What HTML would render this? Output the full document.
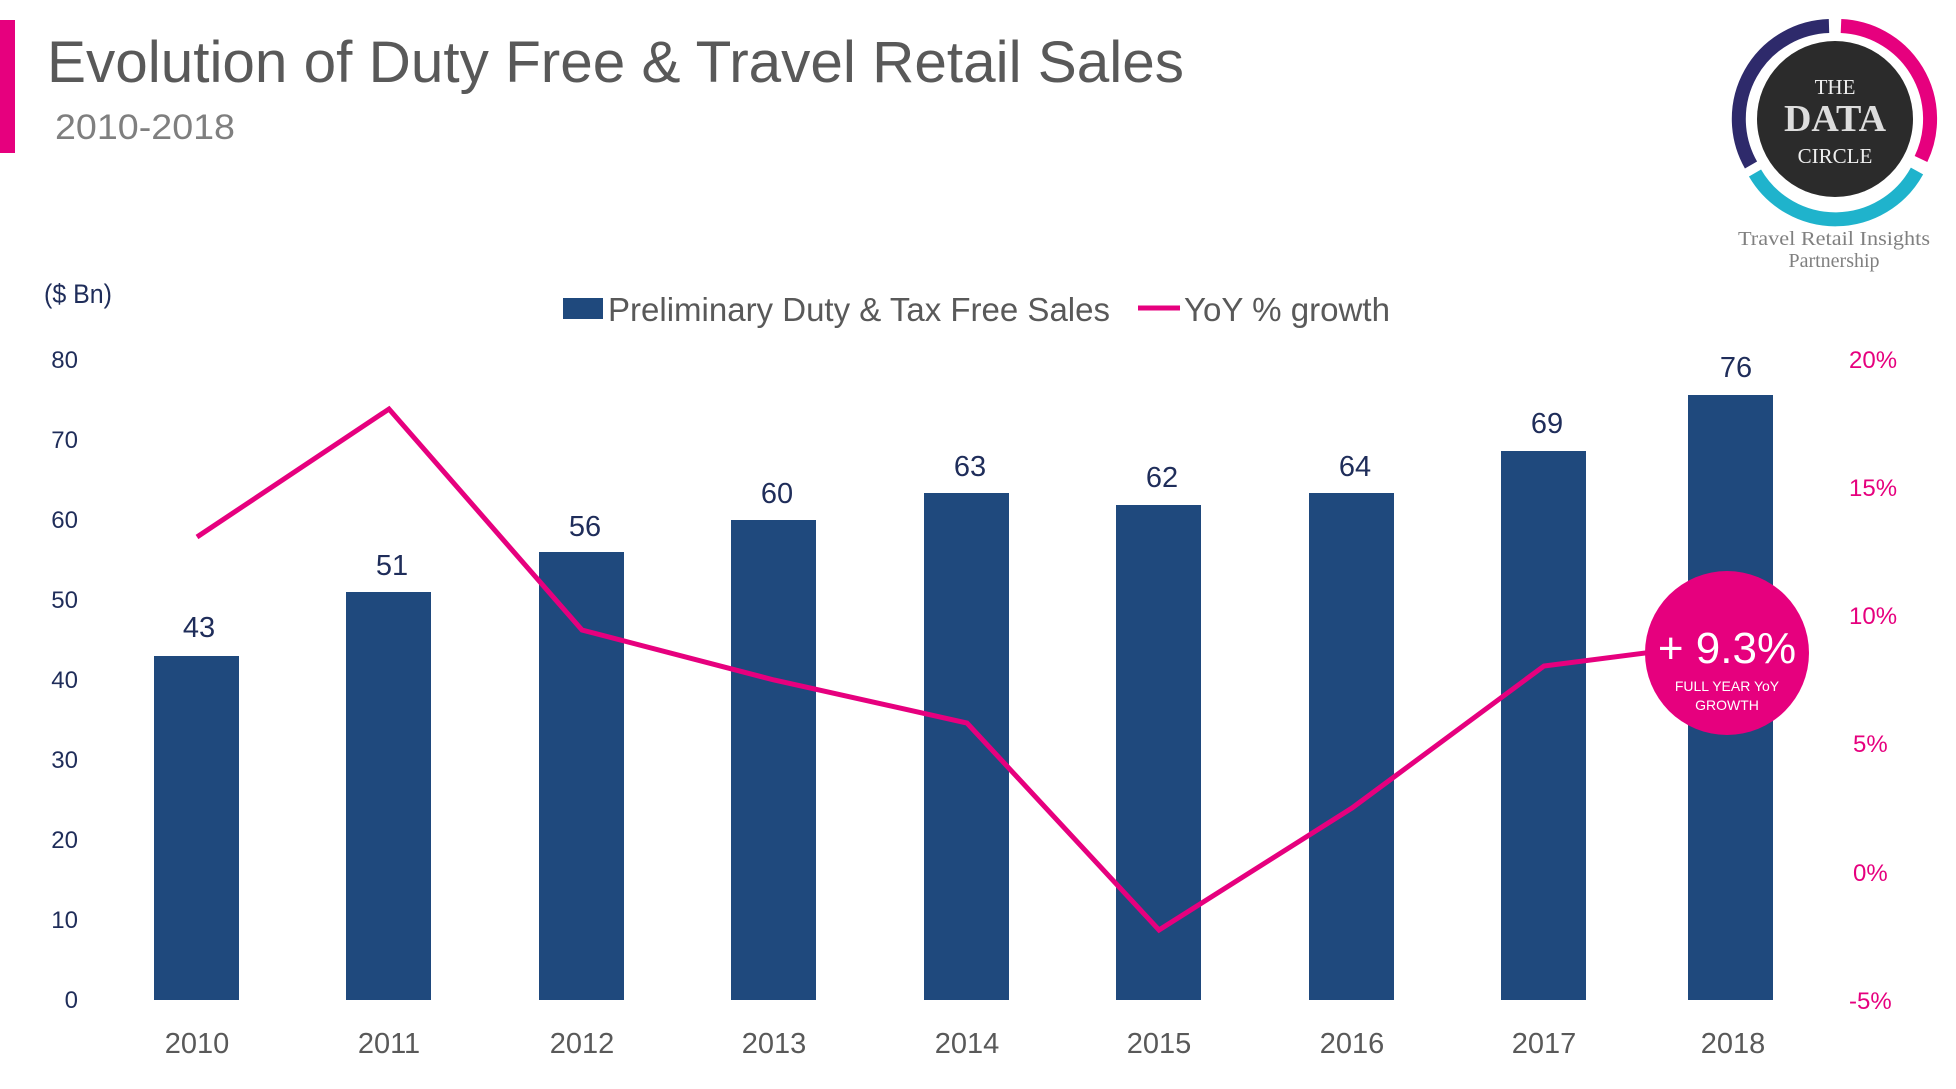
<!DOCTYPE html>
<html><head><meta charset="utf-8"><style>
html,body{margin:0;padding:0;background:#fff;width:1956px;height:1089px;overflow:hidden}
svg{display:block}
</style></head><body>
<svg width="1956" height="1089" viewBox="0 0 1956 1089" xmlns="http://www.w3.org/2000/svg" font-family="'Liberation Sans', sans-serif">
<rect x="0" y="20" width="15" height="133" fill="#e6007e"/>
<text x="47" y="82" font-size="58" fill="#595959" textLength="1137" lengthAdjust="spacingAndGlyphs">Evolution of Duty Free &amp; Travel Retail Sales</text>
<text x="55" y="139" font-size="35" fill="#7f7f7f" textLength="180" lengthAdjust="spacingAndGlyphs">2010-2018</text>
<text x="44" y="303" font-size="27" fill="#1f2d5a" textLength="68" lengthAdjust="spacingAndGlyphs">($ Bn)</text>
<rect x="563" y="298" width="40" height="21" fill="#1f497d"/>
<text x="608" y="321" font-size="33" fill="#595959" textLength="502" lengthAdjust="spacingAndGlyphs">Preliminary Duty &amp; Tax Free Sales</text>
<line x1="1138" y1="308" x2="1180" y2="308" stroke="#e6007e" stroke-width="5"/>
<text x="1184" y="321" font-size="33" fill="#595959" textLength="206" lengthAdjust="spacingAndGlyphs">YoY % growth</text>
<g font-size="24" fill="#1f2d5a" text-anchor="end">
<text x="78" y="368">80</text><text x="78" y="448">70</text><text x="78" y="528">60</text><text x="78" y="608">50</text>
<text x="78" y="688">40</text><text x="78" y="768">30</text><text x="78" y="848">20</text><text x="78" y="928">10</text><text x="78" y="1008">0</text>
</g>
<g font-size="24" fill="#e6007e">
<text x="1849" y="368">20%</text><text x="1849" y="496">15%</text><text x="1849" y="624">10%</text>
<text x="1853" y="752">5%</text><text x="1853" y="881">0%</text><text x="1849" y="1009">-5%</text>
</g>
<g fill="#1f497d">
<rect x="154" y="656" width="85" height="344"/>
<rect x="346" y="592" width="85" height="408"/>
<rect x="539" y="552" width="85" height="448"/>
<rect x="731" y="520" width="85" height="480"/>
<rect x="924" y="493" width="85" height="507"/>
<rect x="1116" y="505" width="85" height="495"/>
<rect x="1309" y="493" width="85" height="507"/>
<rect x="1501" y="451" width="85" height="549"/>
<rect x="1688" y="395" width="85" height="605"/>
</g>
<g font-size="29" fill="#1f2d5a" text-anchor="middle">
<text x="199" y="637">43</text><text x="392" y="575">51</text><text x="585" y="536">56</text>
<text x="777" y="503">60</text><text x="970" y="476">63</text><text x="1162" y="487">62</text>
<text x="1355" y="476">64</text><text x="1547" y="433">69</text><text x="1736" y="377">76</text>
</g>
<polyline points="197,537 389,409 582,630 774,680 967,723 1159,930 1352,808 1544,666 1731,642" fill="none" stroke="#e6007e" stroke-width="5" stroke-linejoin="miter"/>
<circle cx="1727" cy="653" r="82" fill="#e6007e"/>
<text x="1727" y="663" font-size="44" fill="#fff" text-anchor="middle">+ 9.3%</text>
<text x="1727" y="691" font-size="14" fill="#fff" text-anchor="middle">FULL YEAR YoY</text>
<text x="1727" y="710" font-size="14" fill="#fff" text-anchor="middle">GROWTH</text>
<g font-size="29" fill="#595959" text-anchor="middle">
<text x="197" y="1053">2010</text><text x="389" y="1053">2011</text><text x="582" y="1053">2012</text>
<text x="774" y="1053">2013</text><text x="967" y="1053">2014</text><text x="1159" y="1053">2015</text>
<text x="1352" y="1053">2016</text><text x="1544" y="1053">2017</text><text x="1733" y="1053">2018</text>
</g>
<g transform="translate(1835,119)">
<path d="M -6,-93 A 93 93 0 0 0 -84,46" fill="none" stroke="#2e2a6b" stroke-width="14"/>
<path d="M 6,-93 A 93 93 0 0 1 86,40" fill="none" stroke="#e6007e" stroke-width="14"/>
<path d="M -80,54 A 93 93 0 0 0 82,52" fill="none" stroke="#1fb3cc" stroke-width="14"/>
<circle cx="0" cy="0" r="78" fill="#2b2b2b"/>
<text x="0" y="-25" font-family="'Liberation Serif', serif" font-size="21" fill="#eee" text-anchor="middle">THE</text>
<text x="0" y="12" font-family="'Liberation Serif', serif" font-size="38" font-weight="bold" fill="#ddd" text-anchor="middle">DATA</text>
<text x="0" y="44" font-family="'Liberation Serif', serif" font-size="21" fill="#eee" text-anchor="middle">CIRCLE</text>
</g>
<text x="1834" y="245" font-family="'Liberation Serif', serif" font-size="20" fill="#808080" text-anchor="middle" textLength="192" lengthAdjust="spacingAndGlyphs">Travel Retail Insights</text>
<text x="1834" y="267" font-family="'Liberation Serif', serif" font-size="20" fill="#808080" text-anchor="middle">Partnership</text>
</svg>
</body></html>
